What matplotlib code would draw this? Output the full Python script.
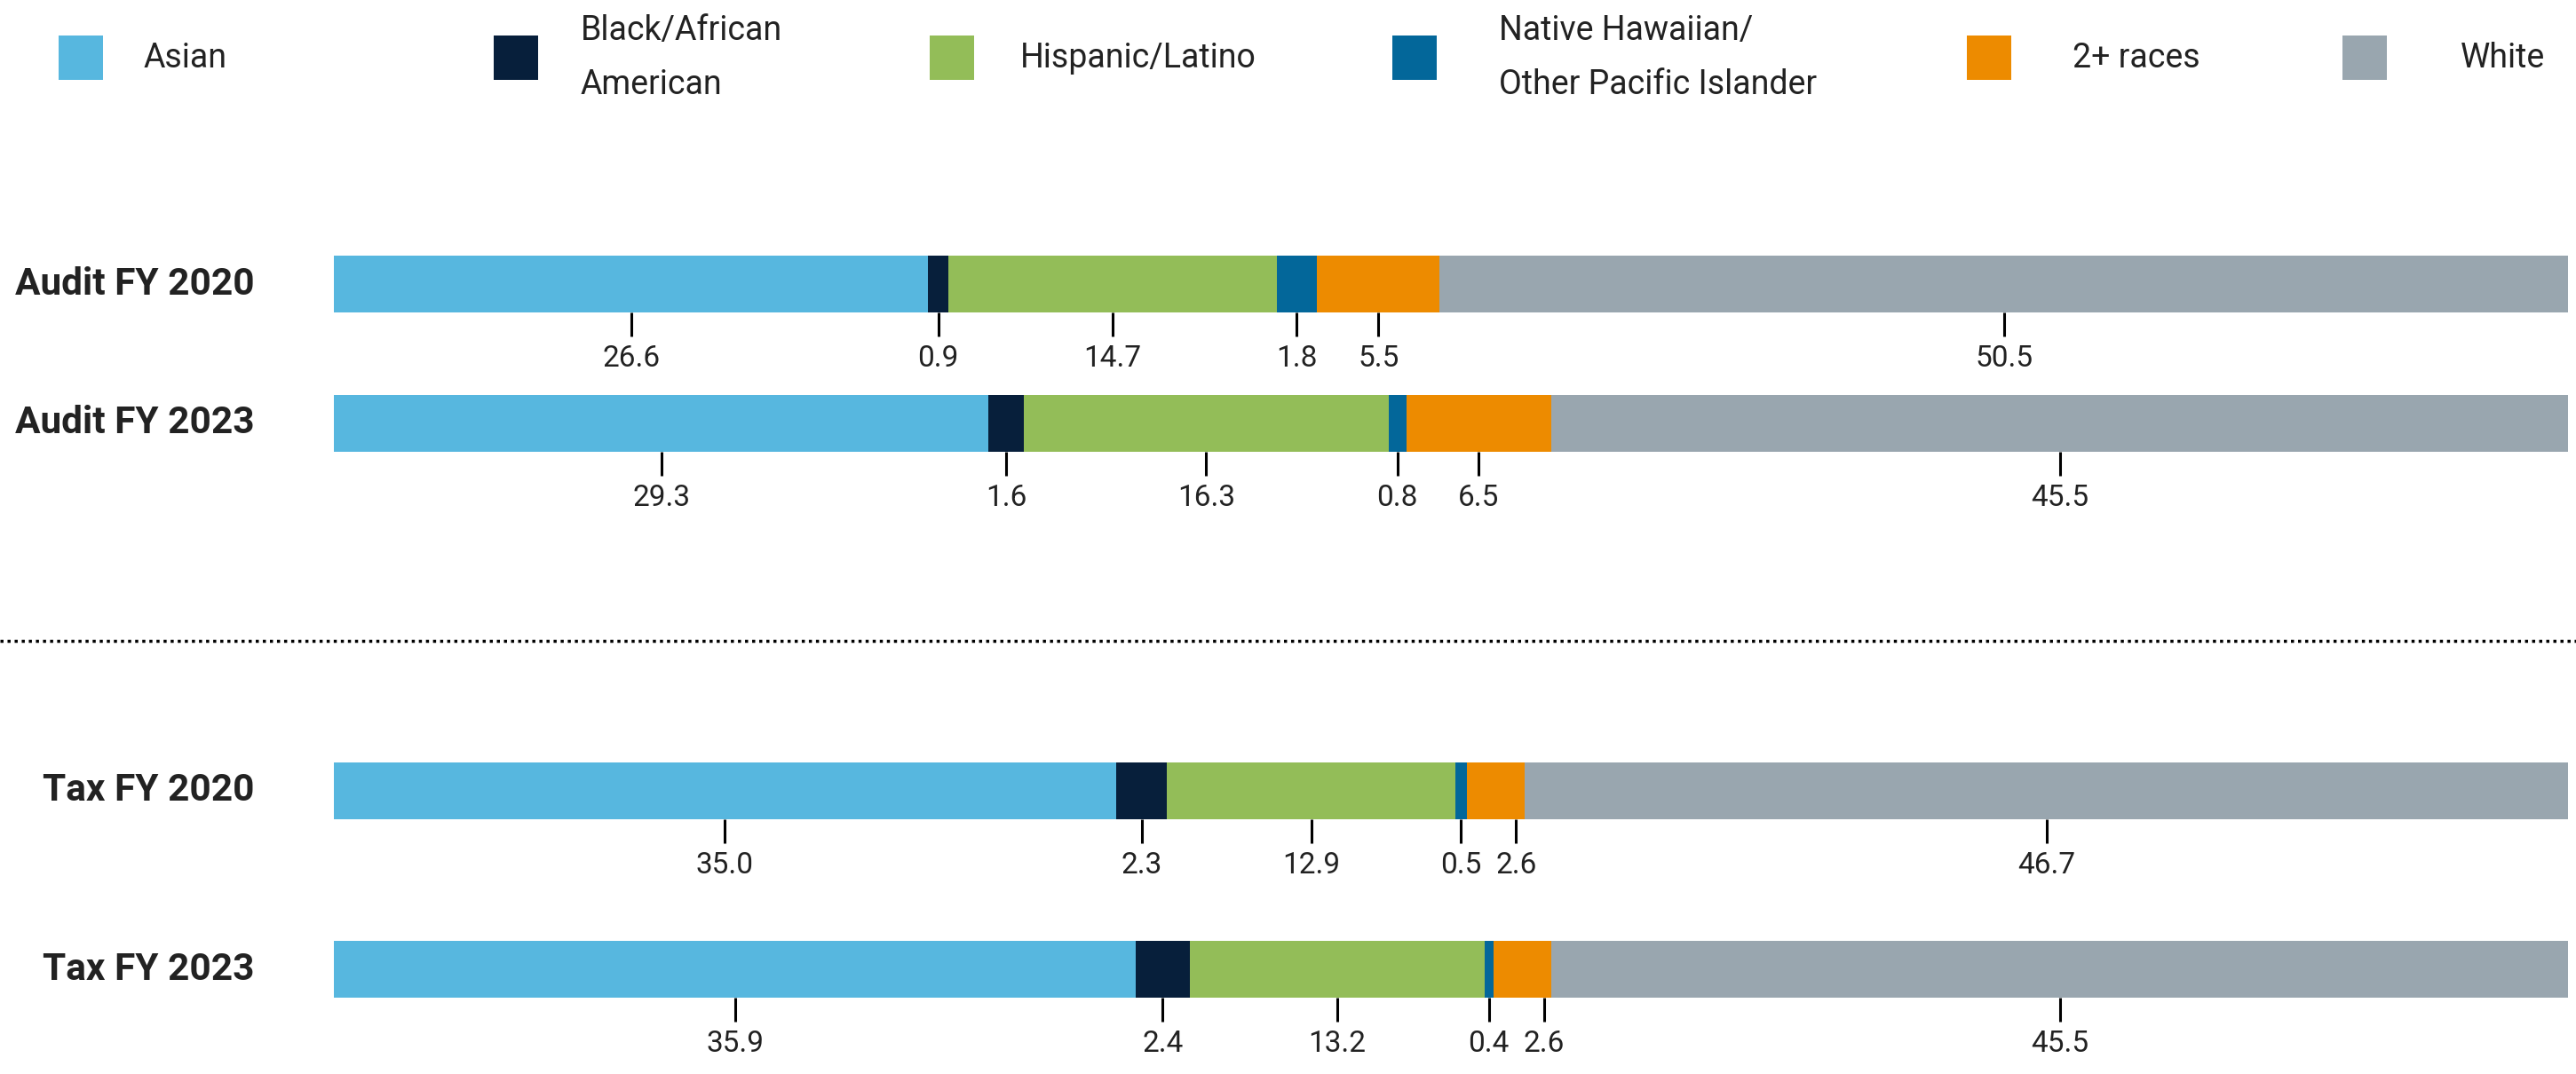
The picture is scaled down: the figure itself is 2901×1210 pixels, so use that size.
import matplotlib
matplotlib.use("Agg")
import matplotlib.pyplot as plt
from matplotlib.patches import Rectangle
from matplotlib.lines import Line2D
from matplotlib.transforms import blended_transform_factory
import numpy as np

# ---------------- data ----------------
categories = ["Audit FY 2020", "Audit FY 2023", "Tax FY 2020", "Tax FY 2023"]
series_names = ["Asian", "Black/African\nAmerican", "Hispanic/Latino",
                "Native Hawaiian/\nOther Pacific Islander", "2+ races", "White"]
asian = [26.6, 29.3, 35.0, 35.9]
black = [0.9, 1.6, 2.3, 2.4]
hispanic = [14.7, 16.3, 12.9, 13.2]
nhopi = [1.8, 0.8, 0.5, 0.4]
multi = [5.5, 6.5, 2.6, 2.6]
white = [50.5, 45.5, 46.7, 45.5]
series_values = [asian, black, hispanic, nhopi, multi, white]

colors = ["#57B7DF", "#071F3B", "#93BD58", "#03679A", "#ED8B00", "#99A6AF"]

# ---------------- layout (pixels) ----------------
W, H = 2901, 1210
BAR_LEFT, BAR_RIGHT = 376, 2892
bar_rows = [320, 477, 891, 1092]      # bar centre rows
BAR_H = 64
TICK_LEN = 27
LABEL_GAP = 36
DIVIDER_Y = 722
legend_sq_x = [66, 556, 1047, 1568, 2215, 2638]
legend_tx_x = [162, 654, 1149, 1688, 2334, 2771]
LEGEND_Y = 65
SQ = 50

plt.rcParams["font.family"] = ["Liberation Sans Narrow", "Roboto", "DejaVu Sans"]
TEXT = "#222222"

fig = plt.figure(figsize=(W / 100, H / 100), dpi=100)
fig.patch.set_facecolor("white")

# main axes for bars: x = percent, y = pixel rows
ax = fig.add_axes([BAR_LEFT / W, 0, (BAR_RIGHT - BAR_LEFT) / W, 1])
ax.set_xlim(0, 100)
ax.set_ylim(H, 0)
ax.axis("off")

vals = np.array(series_values)            # (series, categories)
lefts = np.vstack([np.zeros(len(categories)), np.cumsum(vals, axis=0)[:-1]])

for s in range(len(series_values)):
    ax.barh(bar_rows, vals[s], left=lefts[s], height=BAR_H,
            color=colors[s], edgecolor="none", linewidth=0)

# value ticks and labels
px_per_unit = (BAR_RIGHT - BAR_LEFT) / 100.0
MIN_SEP = 62 / px_per_unit   # minimum distance between neighbouring labels
for c, row in enumerate(bar_rows):
    y0 = row + BAR_H / 2
    prev = -1e9
    for s in range(len(series_values)):
        v = vals[s, c]
        xc = lefts[s, c] + v / 2
        if xc - prev < MIN_SEP:          # push crowded label to the right
            xc = prev + MIN_SEP
        prev = xc
        ax.plot([xc, xc], [y0, y0 + TICK_LEN], color="black", lw=2.2,
                solid_capstyle="butt")
        ax.text(xc, y0 + LABEL_GAP, f"{v:.1f}", ha="center", va="top",
                fontsize=24, color=TEXT)

# category labels
trans = blended_transform_factory(ax.transAxes, ax.transData)
for cat, row in zip(categories, bar_rows):
    ax.text((287 - BAR_LEFT) / (BAR_RIGHT - BAR_LEFT), row, cat, transform=trans,
            ha="right", va="center", fontsize=30.5, fontweight="bold", color=TEXT)

# overlay axes in pixel coordinates for legend and divider
ov = fig.add_axes([0, 0, 1, 1], zorder=-1)
ov.set_xlim(0, W)
ov.set_ylim(H, 0)
ov.axis("off")

ov.add_line(Line2D([0, W], [DIVIDER_Y, DIVIDER_Y], color="black", lw=2.5,
                   linestyle=(0, (1, 1.3)), dash_capstyle="butt"))

for name, col, sx, tx in zip(series_names, colors, legend_sq_x, legend_tx_x):
    ov.add_patch(Rectangle((sx, LEGEND_Y - SQ / 2), SQ, SQ, facecolor=col,
                           edgecolor="none"))
    ov.text(tx, LEGEND_Y, name, ha="left", va="center", fontsize=27,
            color=TEXT, linespacing=1.85)

fig.savefig("out.png", dpi=100, facecolor="white")
